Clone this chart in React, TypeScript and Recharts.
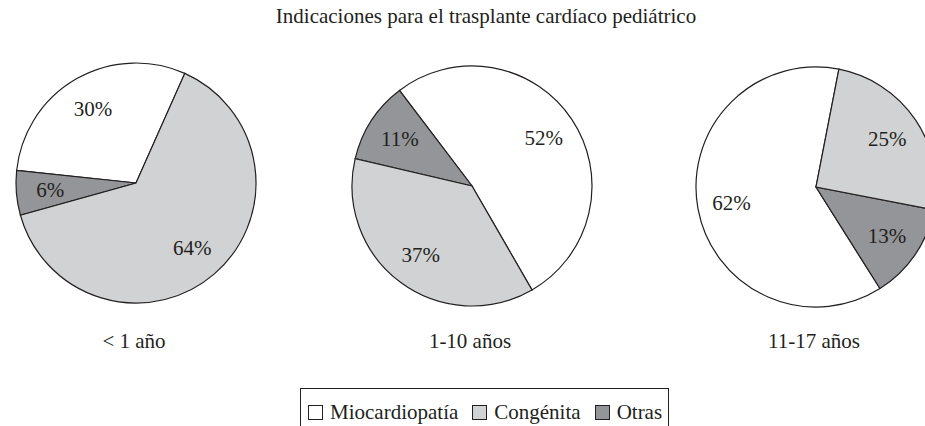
import React from 'react';
import { PieChart, Pie, Cell, Legend } from 'recharts';

// categories and values
const categories = ['Miocardiopatía', 'Congénita', 'Otras'];
const categoryColors = ['#ffffff', '#d1d2d4', '#939598'];
const groups = ['< 1 año', '1-10 años', '11-17 años'];
const lessThanOne = [30, 64, 6];
const oneToTen = [52, 37, 11];
const elevenToSeventeen = [62, 25, 13];

// drawing order around each pie (counterclockwise): Miocardiopatía, Otras, Congénita
const drawOrder = [0, 2, 1];

const pies = [
  { label: groups[0], values: lessThanOne, cx: 136, cy: 183, start: 66 },
  { label: groups[1], values: oneToTen, cx: 472, cy: 186, start: -60 },
  { label: groups[2], values: elevenToSeventeen, cx: 816, cy: 187, start: 79 },
];

const INK = '#231f20';
const FONT = '"Liberation Serif", "Times New Roman", serif';
const RADIAN = Math.PI / 180;

const renderPctLabel = (props: any) => {
  const { cx, cy, midAngle, value } = props;
  const r = 86;
  const x = cx + r * Math.cos(-midAngle * RADIAN);
  const y = cy + r * Math.sin(-midAngle * RADIAN);
  return (
    <text x={x} y={y} dy={7} textAnchor="middle" fill={INK} fontSize={21} fontFamily={FONT}>
      {`${value}%`}
    </text>
  );
};

const LegendBox = () => (
  <div
    style={{
      position: 'absolute',
      left: 300,
      top: 388,
      width: 369,
      height: 60,
      border: `1px solid ${INK}`,
      boxSizing: 'border-box',
      fontFamily: FONT,
      fontSize: 21,
      color: INK,
      display: 'flex',
      alignItems: 'flex-start',
      paddingLeft: 7,
      paddingTop: 11,
      lineHeight: '24px',
    }}
  >
    {categories.map((c, i) => (
      <span key={c} style={{ display: 'flex', alignItems: 'center', marginRight: 14 }}>
        <span
          style={{
            display: 'inline-block',
            width: 15,
            height: 15,
            background: categoryColors[i],
            border: `1px solid ${INK}`,
            boxSizing: 'border-box',
            marginRight: 7,
          }}
        />
        {c}
      </span>
    ))}
  </div>
);

export default function App() {
  return (
    <div
      style={{
        position: 'absolute',
        left: 0,
        top: 0,
        width: 925,
        height: 426,
        overflow: 'hidden',
        background: '#fff',
      }}
    >
      <PieChart width={945} height={426} margin={{ top: 0, right: 0, bottom: 0, left: 0 }}>
        {pies.map((p, k) => (
          <Pie
            key={p.label}
            data={drawOrder.map((i) => ({ name: categories[i], value: p.values[i], color: categoryColors[i] }))}
            dataKey="value"
            nameKey="name"
            cx={p.cx}
            cy={p.cy}
            outerRadius={120}
            startAngle={p.start}
            endAngle={p.start + 360}
            stroke={INK}
            strokeWidth={1.2}
            label={renderPctLabel}
            labelLine={false}
            isAnimationActive={false}
          >
            {drawOrder.map((i) => (
              <Cell key={`cell-${k}-${i}`} fill={categoryColors[i]} />
            ))}
          </Pie>
        ))}
        <Legend content={() => null} />
      </PieChart>

      <svg
        width={925}
        height={426}
        style={{ position: 'absolute', left: 0, top: 0, pointerEvents: 'none' }}
      >
        <text x={486} y={23} textAnchor="middle" fill={INK} fontSize={21} fontFamily={FONT}>
          Indicaciones para el trasplante cardíaco pediátrico
        </text>
        {pies.map((p) => (
          <text key={p.label} x={p.cx - 2} y={348} textAnchor="middle" fill={INK} fontSize={21} fontFamily={FONT}>
            {p.label}
          </text>
        ))}
      </svg>

      <LegendBox />
    </div>
  );
}
